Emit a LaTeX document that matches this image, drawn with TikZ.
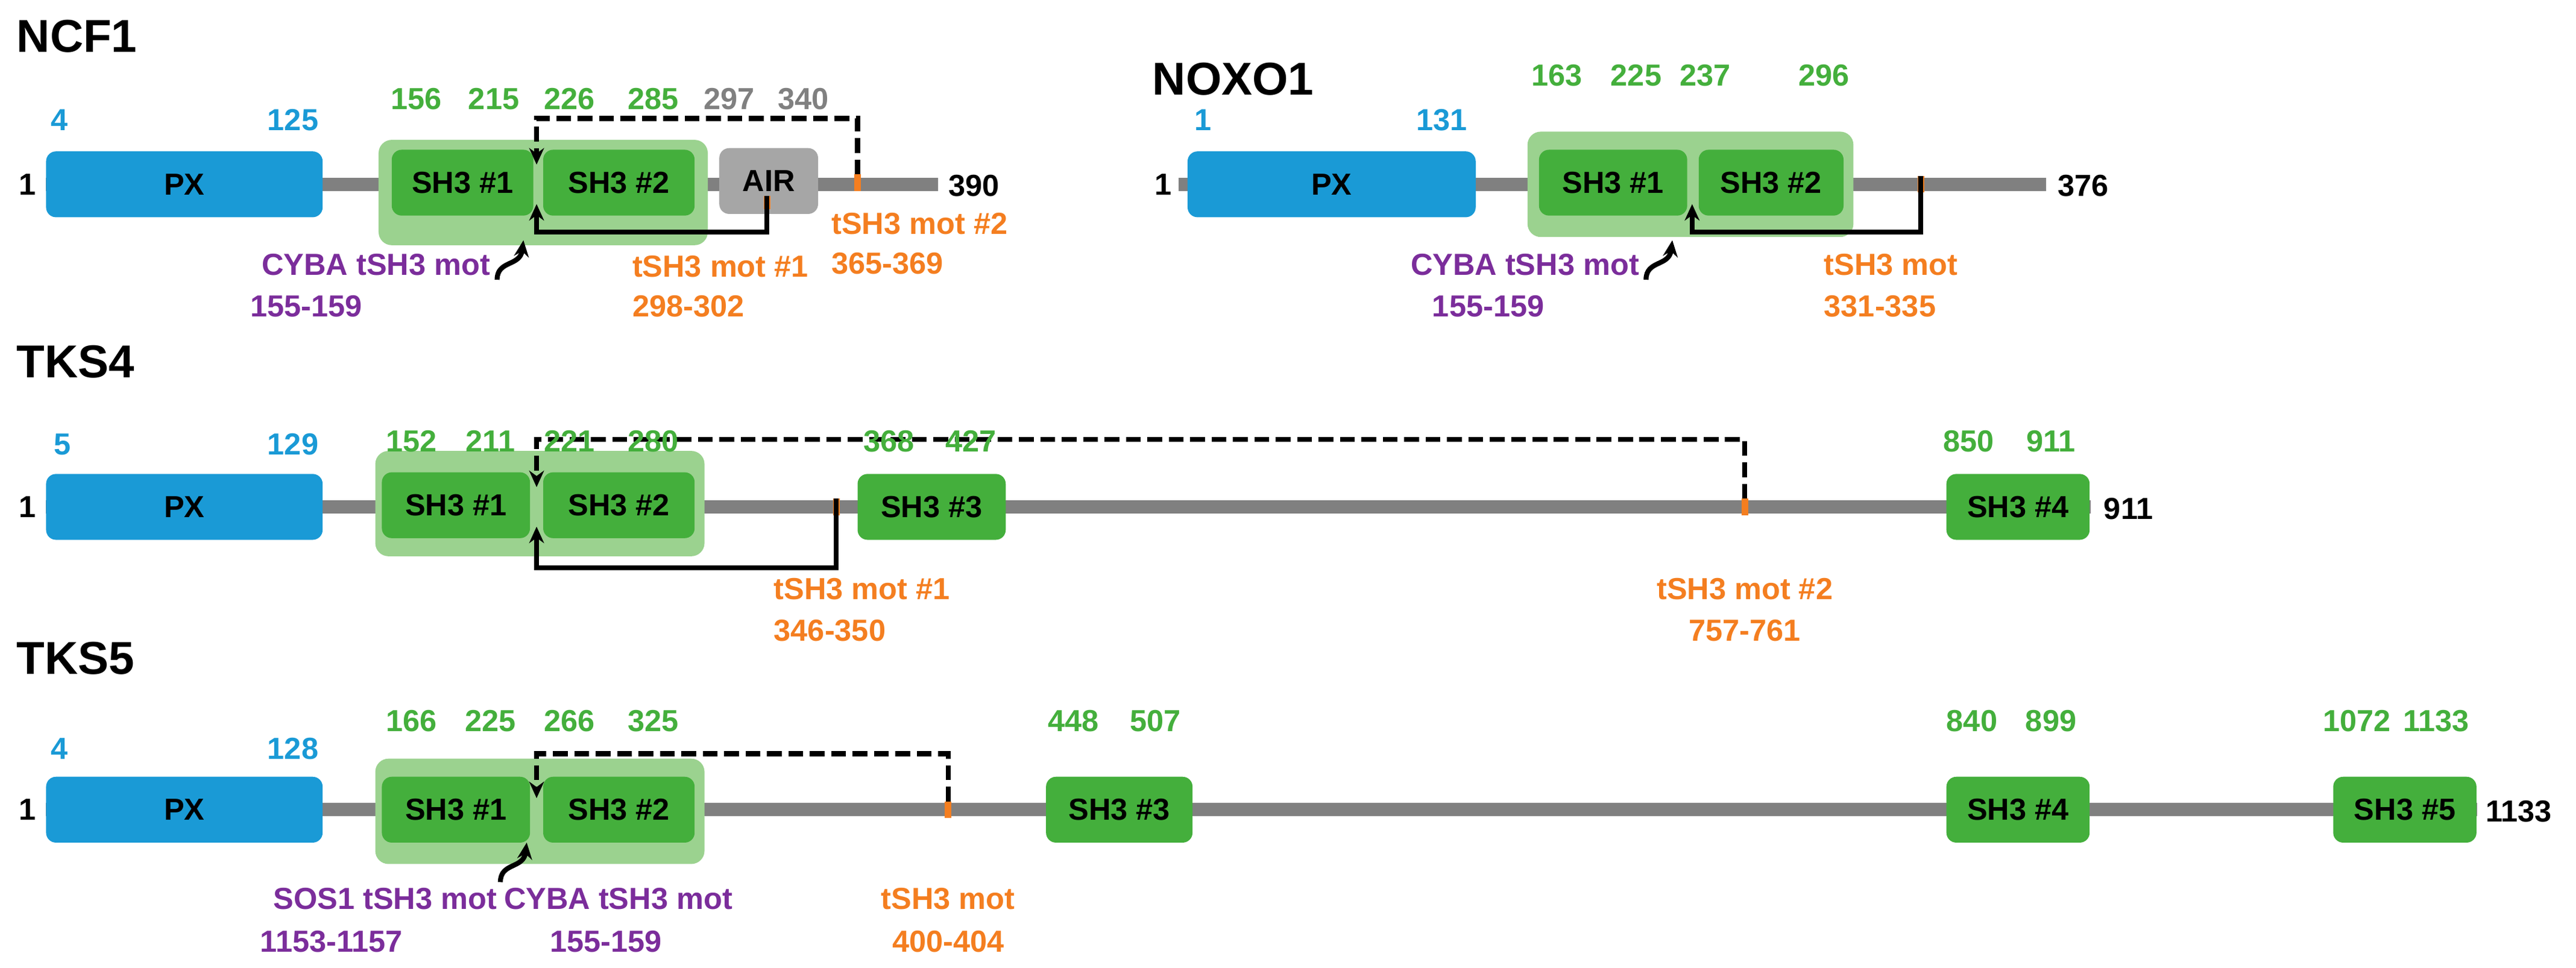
\documentclass[tikz,border=0pt]{standalone}
\usepackage{fontspec}
\setmainfont{Liberation Sans}
\usetikzlibrary{arrows.meta}
\definecolor{pxb}{HTML}{1A9AD6}
\definecolor{sh}{HTML}{44AF3C}
\definecolor{shl}{HTML}{9BD28F}
\definecolor{bb}{HTML}{808080}
\definecolor{air}{HTML}{A6A6A6}
\definecolor{org}{HTML}{F47E20}
\definecolor{pur}{HTML}{7B2D9B}
\begin{document}
\begin{tikzpicture}[x=1pt,y=-1pt,
  lbl/.style={font=\fontsize{18.5}{19}\selectfont\bfseries,inner sep=0pt},
  ttl/.style={font=\fontsize{28}{30}\selectfont\bfseries,inner sep=0pt,anchor=west},
  dom/.style={rounded corners=6pt,inner sep=0pt,minimum height=40pt,font=\fontsize{18.5}{19}\selectfont\bfseries},
  px/.style={dom,fill=pxb},
  sh3/.style={dom,fill=sh},
  pair/.style={rounded corners=8pt,fill=shl,inner sep=0pt,minimum height=64pt,minimum width=200pt},
  bbl/.style={line width=8pt,draw=bb},
  tick/.style={line width=4pt,draw=org},
  con/.style={line width=3pt,-{Stealth[length=10pt,width=9pt]}},
  dcon/.style={con,dash pattern=on 9pt off 4pt},
  blue/.style={lbl,text=pxb},green/.style={lbl,text=sh},grey/.style={lbl,text=bb},
  or/.style={lbl,text=org,align=center},pu/.style={lbl,text=pur,align=center}]
\useasboundingbox (0,0) rectangle (1565,588);
% ================= NCF1
\node[ttl] (t1) at (10,22) {NCF1};
\draw[bbl] (28,112) coordinate (a1) -- (570,112) coordinate (b1);
\node[lbl,anchor=east] (s1) at (22,112) {1};
\node[lbl,anchor=west] (e1) at (576,113) {390};
\node[pair] (p1) at (330,117) {};
\node[px,minimum width=168pt] (n1px) at (112,112) {PX};
\node[sh3,minimum width=86pt] (n1a) at (281,111) {SH3 \#1};
\node[sh3,minimum width=92pt] (n1b) at (376,111) {SH3 \#2};
\node[dom,fill=air,minimum width=60pt] (n1air) at (467,110) {AIR};
\draw[tick] (521,106) coordinate (m12) -- (521,116);
\draw[tick] (466,119) coordinate (m11) -- (466,127);
\draw[dcon] (m12) -- (521,72) -| (326,100) coordinate (j1);
\draw[con] (m11) -- (466,141) -| (326,124);
\draw[con] (302,170) .. controls (302,158) and (316,162) .. (318,146);
\node[blue] at (36,73) {4}; \node[blue] at (178,73) {125};
\node[green] at (253,60) {156}; \node[green] at (300,60) {215};
\node[green] at (346,60) {226}; \node[green] at (397,60) {285};
\node[grey] at (443,60) {297}; \node[grey] at (488,60) {340};
\node[pu,anchor=east] (c1) at (298,161) {CYBA tSH3 mot};
\node[pu,anchor=west] at (152,186) {155-159};
\node[or,anchor=west] (o11) at (384,162) {tSH3 mot \#1};
\node[or,anchor=west] at (384,186) {298-302};
\node[or,anchor=west] (o12) at (505,136) {tSH3 mot \#2};
\node[or,anchor=west] at (505,160) {365-369};
% ================= NOXO1
\node[ttl] (t2) at (700,48) {NOXO1};
\draw[bbl] (716,112) -- (1243,112);
\node[lbl,anchor=east] at (712,112) {1};
\node[lbl,anchor=west] at (1250,113) {376};
\node[pair,minimum width=198pt] (p2) at (1027,112) {};
\node[px,minimum width=175pt] (n2px) at (809,112) {PX};
\node[sh3,minimum width=90pt] (n2a) at (980,111) {SH3 \#1};
\node[sh3,minimum width=88pt] (n2b) at (1076,111) {SH3 \#2};
\draw[tick] (1167,107) coordinate (m2) -- (1167,117);
\draw[con] (m2) -- (1167,141) -| (1028,124);
\draw[con] (1000,170) .. controls (1000,158) and (1014,162) .. (1016,146);
\node[blue] at (731,73) {1}; \node[blue] at (876,73) {131};
\node[green] at (946,46) {163}; \node[green] at (994,46) {225};
\node[green] at (1036,46) {237}; \node[green] at (1108,46) {296};
\node[pu,anchor=east] (c2) at (996,161) {CYBA tSH3 mot};
\node[pu,anchor=west] at (870,186) {155-159};
\node[or,anchor=west] at (1108,161) {tSH3 mot};
\node[or,anchor=west] at (1108,186) {331-335};
% ================= TKS4
\node[ttl] (t3) at (10,220) {TKS4};
\draw[bbl] (28,308) -- (1270,308);
\node[lbl,anchor=east] at (22,308) {1};
\node[lbl,anchor=west] at (1278,309) {911};
\node[pair] (p3) at (328,306) {};
\node[px,minimum width=168pt] (n3px) at (112,308) {PX};
\node[sh3,minimum width=90pt] (n3a) at (277,307) {SH3 \#1};
\node[sh3,minimum width=92pt] (n3b) at (376,307) {SH3 \#2};
\node[sh3,minimum width=90pt] (n3c) at (566,308) {SH3 \#3};
\node[sh3,minimum width=87pt] (n3d) at (1226,308) {SH3 \#4};
\draw[tick] (508,303) coordinate (m31) -- (508,313);
\draw[tick] (1060,303) coordinate (m32) -- (1060,313);
\draw[dcon] (m32) -- (1060,267) -| (326,296);
\draw[con] (m31) -- (508,345) -| (326,320);
\node[blue] at (38,270) {5}; \node[blue] at (178,270) {129};
\node[green] at (250,268) {152}; \node[green] at (298,268) {211};
\node[green] at (346,268) {221}; \node[green] at (397,268) {280};
\node[green] at (540,268) {368}; \node[green] at (590,268) {427};
\node[green] at (1196,268) {850}; \node[green] at (1246,268) {911};
\node[or,anchor=west] at (470,358) {tSH3 mot \#1};
\node[or,anchor=west] at (470,383) {346-350};
\node[or] at (1060,358) {tSH3 mot \#2};
\node[or] at (1060,383) {757-761};
% ================= TKS5
\node[ttl] (t4) at (10,400) {TKS5};
\draw[bbl] (28,492) -- (1505,492);
\node[lbl,anchor=east] at (22,492) {1};
\node[lbl,anchor=west] at (1510,493) {1133};
\node[pair] (p4) at (328,493) {};
\node[px,minimum width=168pt] (n4px) at (112,492) {PX};
\node[sh3,minimum width=90pt] (n4a) at (277,492) {SH3 \#1};
\node[sh3,minimum width=92pt] (n4b) at (376,492) {SH3 \#2};
\node[sh3,minimum width=89pt] (n4c) at (680,492) {SH3 \#3};
\node[sh3,minimum width=87pt] (n4d) at (1226,492) {SH3 \#4};
\node[sh3,minimum width=87pt] (n4e) at (1461,492) {SH3 \#5};
\draw[tick] (576,487) coordinate (m4) -- (576,497);
\draw[dcon] (m4) -- (576,458) -| (326,485);
\draw[con] (304,536) .. controls (304,524) and (318,528) .. (320,512);
\node[blue] at (36,455) {4}; \node[blue] at (178,455) {128};
\node[green] at (250,438) {166}; \node[green] at (298,438) {225};
\node[green] at (346,438) {266}; \node[green] at (397,438) {325};
\node[green] at (652,438) {448}; \node[green] at (702,438) {507};
\node[green] at (1198,438) {840}; \node[green] at (1246,438) {899};
\node[green] at (1432,438) {1072}; \node[green] at (1480,438) {1133};
\node[pu,anchor=east] at (302,546) {SOS1 tSH3 mot};
\node[pu,anchor=west] at (158,572) {1153-1157};
\node[pu,anchor=west] at (306,546) {CYBA tSH3 mot};
\node[pu,anchor=west] at (334,572) {155-159};
\node[or] at (576,546) {tSH3 mot};
\node[or] at (576,572) {400-404};
\end{tikzpicture}
\end{document}
